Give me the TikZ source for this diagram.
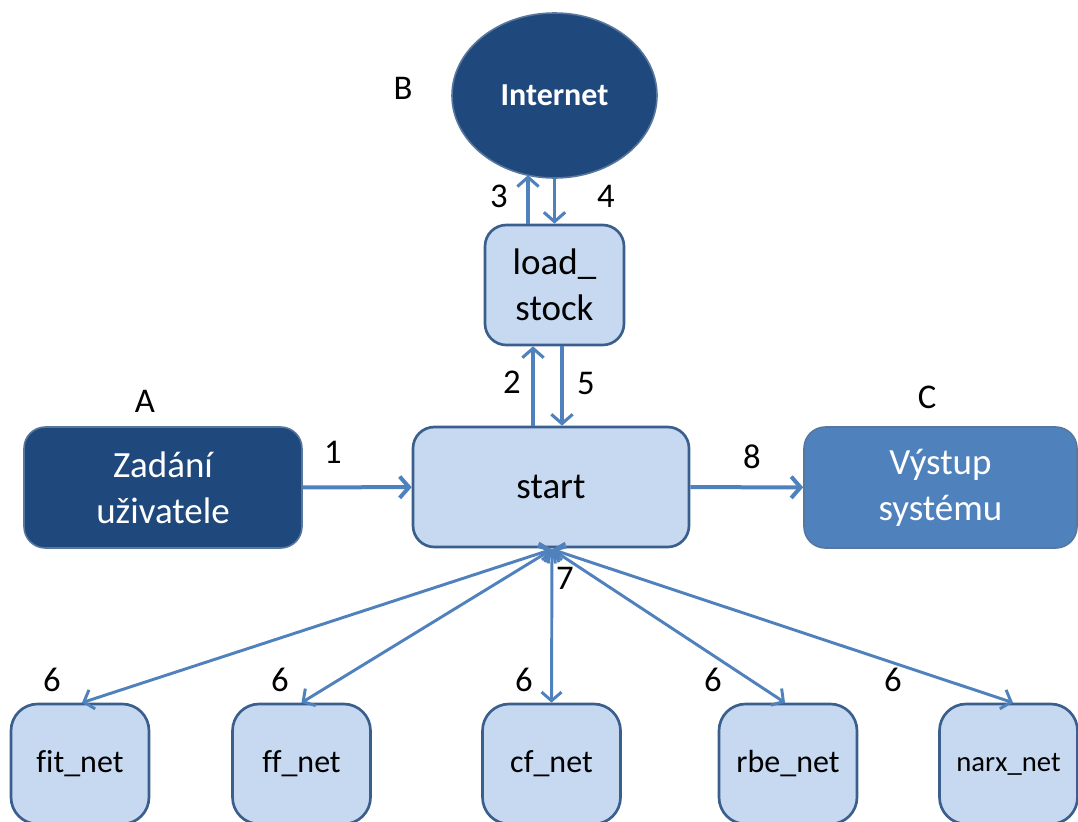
\documentclass[tikz,border=0pt]{standalone}
\usepackage{fontspec}
\setmainfont{Carlito}[Ligatures=CommonOff]
\usetikzlibrary{arrows.meta,calc,shapes.geometric}
\definecolor{darkfill}{HTML}{1F497D}
\definecolor{midfill}{HTML}{4F81BD}
\definecolor{lightfill}{HTML}{C6D9F1}
\definecolor{edgec}{HTML}{3A5F8C}
\definecolor{arrc}{HTML}{4F81BD}
\newcommand{\fs}[1]{\fontsize{#1}{1.24\dimexpr #1\relax}\selectfont}
\begin{document}
\begin{tikzpicture}[x=0.75pt,y=-0.75pt,
  lightbox/.style={rectangle, rounded corners=16pt, draw=edgec, line width=2pt,
    fill=lightfill, align=center, inner sep=0pt, font=\fs{27.75pt}},
  netbox/.style={lightbox, rounded corners=20pt, minimum width=103.5pt,
    minimum height=90pt, font=\fs{24pt}},
  darkbox/.style={rectangle, rounded corners=16pt, draw=edgec!85!white, line width=1.2pt,
    fill=darkfill, text=white, align=center, inner sep=0pt, font=\fs{27.75pt}},
  arr/.style={draw=arrc, line width=2.3pt, -{Straight Barb[length=7pt,width=16pt]}},
  darr/.style={draw=arrc, line width=2.2pt,
    {Straight Barb[length=6.5pt,width=15pt]}-{Straight Barb[length=6.5pt,width=15pt]}},
  num/.style={font=\fs{26pt}, inner sep=0pt}]
\useasboundingbox (0,0) rectangle (1078,821);

% main nodes
\node[ellipse, fill=darkfill, draw=edgec!85!white, line width=1.2pt,
  minimum width=153.75pt, minimum height=123.75pt, text=white,
  font=\fs{24pt}\bfseries] (inet) at (554.5,95.5) {Internet};
\node[lightbox, minimum width=104.25pt, minimum height=90pt] (load) at (554.5,285)
  {load\_\\stock};
\node[lightbox, minimum width=207pt, minimum height=90pt] (start) at (551,487) {start};
\node[darkbox, minimum width=208.5pt, minimum height=90.75pt] (user) at (163,487.5)
  {Zadání\\uživatele};
\node[darkbox, fill=midfill, minimum width=204.75pt, minimum height=90.75pt] (out)
  at (940.5,487.5) {Výstup\\systému};

% network nodes
\node[netbox] (fit) at (80,764) {fit\_net};
\node[netbox] (ff) at (301.5,764) {ff\_net};
\node[netbox] (cf) at (551.5,764) {cf\_net};
\node[netbox] (rbe) at (788,764) {rbe\_net};
\node[netbox, font=\fs{21.5pt}] (narx) at (1008.5,764) {narx\_net};

% connectors
\draw[arr, line width=3pt] (user) -- (start);
\draw[arr, line width=3pt] (start) -- (out);
\draw[arr] ($(start.north)+(-18,0)$) -- ($(load.south)+(-21.5,0)$);
\draw[arr] ($(load.south)+(7.5,0)$) -- ($(start.north)+(11,0)$);
\draw[arr] ($(load.north)+(-26.5,0)$) -- ($(inet.center)+(-26.5,79.7)$);
\draw[arr] (inet.south) -- (load.north);
\coordinate (hub) at ($(start.south)+(1,1)$);
\draw[darr] (hub) -- ($(fit.north)+(2,0)$);
\draw[darr] (hub) -- (ff.north);
\draw[darr] (hub) -- (cf.north);
\draw[darr] (hub) -- ($(rbe.north)+(-3,0)$);
\draw[darr] (hub) -- ($(narx.north)+(4.5,0)$);

% labels
\node[num] (lB) at (403,88) {B};
\node[num] (lA) at (145,401) {A};
\node[num] (lC) at (927,397) {C};
\node[num] (l1) at (333,452) {1};
\node[num] (l2) at (512,382) {2};
\node[num] (l3) at (499,196) {3};
\node[num] (l4) at (606,196) {4};
\node[num] (l5) at (586,383) {5};
\node[num] (l7) at (565,578) {7};
\node[num] (l8) at (752,457) {8};
\node[num] (l6a) at (52,680) {6};
\node[num] (l6b) at (280,680) {6};
\node[num] (l6c) at (524,680) {6};
\node[num] (l6d) at (713,680) {6};
\node[num] (l6e) at (893,680) {6};
\end{tikzpicture}
\end{document}
